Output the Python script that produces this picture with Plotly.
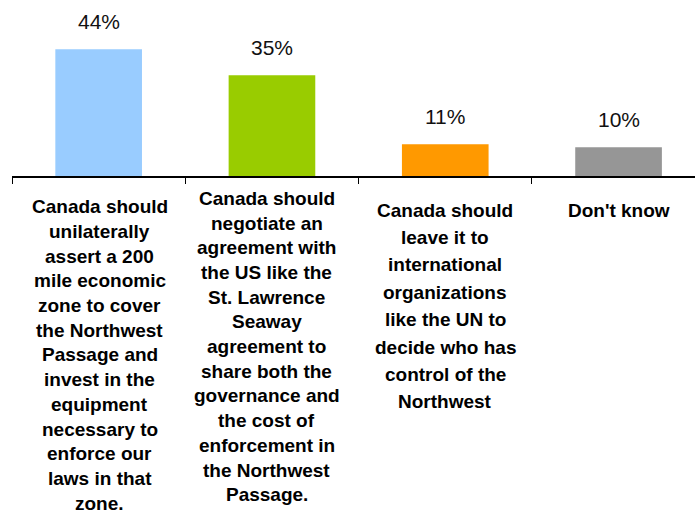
import plotly.graph_objects as go

categories = ["unilateral", "negotiate", "international", "dontknow"]
values = [44, 35, 11, 10]
value_labels = ["44%", "35%", "11%", "10%"]
label_lines = [
    ["Canada should", "unilaterally", "assert a 200", "mile economic", "zone to cover",
     "the Northwest", "Passage and", "invest in the", "equipment", "necessary to",
     "enforce our", "laws in that", "zone."],
    ["Canada should", "negotiate an", "agreement with", "the US like the", "St. Lawrence",
     "Seaway", "agreement to", "share both the", "governance and", "the cost of",
     "enforcement in", "the Northwest", "Passage."],
    ["Canada should", "leave it to", "international", "organizations", "like the UN to",
     "decide who has", "control of the", "Northwest"],
    ["Don't know"],
]
colors = ["#99CCFF", "#99CC00", "#FF9900", "#969696"]

W, H = 695, 510
ML, MR, MT, MB = 12, 0, 0, 334
plot_h = H - MT - MB
cat_w = 173.3
px_per_unit = 2.88

fig = go.Figure()
fig.add_trace(go.Bar(
    x=categories, y=values, marker=dict(color=colors, line=dict(width=0)),
    width=0.5, hoverinfo="skip", showlegend=False,
))

annotations = []
for c, v, t in zip(categories, values, value_labels):
    annotations.append(dict(
        x=c, y=v, xref="x", yref="y", text=t, showarrow=False,
        yanchor="middle", yshift=27.5,
        font=dict(family="Liberation Sans, Arial, sans-serif", size=21, color="#111111"),
    ))

# per-label layout: first line centre (px from top) and line spacing
starts = [206.7, 198.3, 210.0, 210.0]
spacings = [24.7, 24.7, 27.4, 27.4]
xshifts = [1, -5, 0, 0]
for c, lines, s0, sp, xs in zip(categories, label_lines, starts, spacings, xshifts):
    for k, line in enumerate(lines):
        py = s0 + k * sp
        annotations.append(dict(
            x=c, xref="x", y=1 - (py - MT) / plot_h, yref="paper",
            text=f"<b>{line}</b>", showarrow=False, yanchor="middle", xanchor="center",
            xshift=xs,
            font=dict(family="Liberation Sans, Arial, sans-serif", size=19, color="#000000"),
        ))

plot_w = W - ML - MR
fig.update_layout(
    width=W, height=H,
    margin=dict(l=ML, r=MR, t=MT, b=MB, pad=0),
    paper_bgcolor="white", plot_bgcolor="white",
    annotations=annotations,
    bargap=0.5,
)
fig.update_xaxes(
    type="category", range=[-0.5, -0.5 + plot_w / cat_w],
    showline=True, linecolor="#000000", linewidth=1.5,
    ticks="outside", tickson="boundaries", ticklen=6, tickcolor="#000000", tickwidth=1,
    showticklabels=False, showgrid=False, zeroline=False,
)
fig.update_yaxes(
    range=[0, plot_h / px_per_unit], visible=False, showgrid=False, zeroline=False,
)

fig.write_html("out.html")
